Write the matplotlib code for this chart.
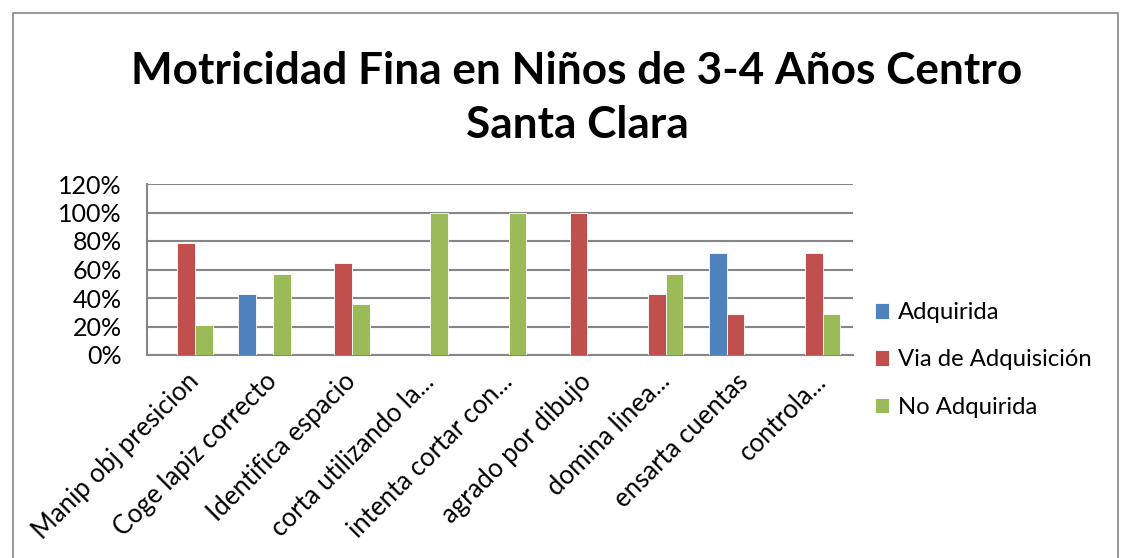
import matplotlib
matplotlib.use("Agg")
import matplotlib.pyplot as plt
import numpy as np
from matplotlib.patches import Rectangle
from matplotlib.ticker import PercentFormatter

categories = ["Manip obj presicion", "Coge lapiz correcto", "Identifica espacio",
              "corta utilizando la...", "intenta cortar con...", "agrado por dibujo",
              "domina linea...", "ensarta cuentas", "controla..."]
adquirida = [0.0, 0.429, 0.0, 0.0, 0.0, 0.0, 0.0, 0.714, 0.0]
via_adq = [0.786, 0.0, 0.643, 0.0, 0.0, 1.0, 0.429, 0.286, 0.714]
no_adq = [0.214, 0.571, 0.357, 1.0, 1.0, 0.0, 0.571, 0.0, 0.286]
series_names = ["Adquirida", "Via de Adquisición", "No Adquirida"]
colors = ["#4F81BD", "#C0504D", "#9BBB59"]
yticks = [0, 0.2, 0.4, 0.6, 0.8, 1.0, 1.2]

plt.rcParams['font.family'] = ['Lato', 'DejaVu Sans']

W, H = 1131, 558
fig = plt.figure(figsize=(W / 100, H / 100), dpi=100)
ax = fig.add_axes([147 / W, 1 - 355 / H, (853 - 147) / W, (355 - 184) / H])

x = np.arange(len(categories))
bw = 0.225
for i, (vals, name, c) in enumerate(zip([adquirida, via_adq, no_adq], series_names, colors)):
    ax.bar(x + (i - 1) * bw, vals, width=bw, color=c, label=name,
           edgecolor='white', linewidth=0.6, zorder=3)

ax.set_xlim(-0.5, len(categories) - 0.5)
ax.set_ylim(0, 1.2)
ax.set_yticks(yticks)
ax.yaxis.set_major_formatter(PercentFormatter(1.0, decimals=0))
ax.grid(axis='y', color='#868686', linewidth=1.5, zorder=0)
ax.set_axisbelow(True)
for s in ['top', 'right']:
    ax.spines[s].set_visible(False)
for s in ['left', 'bottom']:
    ax.spines[s].set_color('#868686')
    ax.spines[s].set_linewidth(1.5)
ax.tick_params(axis='both', length=0, labelsize=18, colors='black')
ax.tick_params(axis='y', pad=18)
ax.set_xticks(x)
ax.set_xticklabels(categories, rotation=45, ha='right', va='top',
                   rotation_mode='anchor', fontsize=18.5)
ax.tick_params(axis='x', pad=10)

fig.text(577 / W, 1 - 98 / H, "Motricidad Fina en Niños de 3-4 Años Centro\nSanta Clara",
         ha='center', va='center', fontsize=31.8, fontweight='bold', linespacing=1.45)

leg = fig.legend(loc='center left', bbox_to_anchor=(853 / W, 1 - 360 / H),
                 frameon=False, fontsize=17.2, handlelength=0.62, handleheight=0.62,
                 labelspacing=1.1, handletextpad=0.35)

fig.patches.append(Rectangle((13 / W, -0.05), (1118 - 13) / W, (1 - 13 / H) + 0.05,
                             transform=fig.transFigure, fill=False,
                             edgecolor='#868686', linewidth=1.2))

fig.savefig("out.png", dpi=100)
